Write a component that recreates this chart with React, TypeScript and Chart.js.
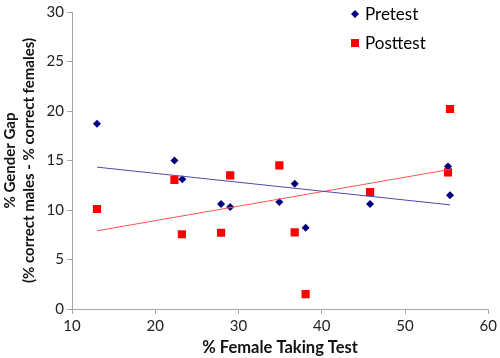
import React, { useEffect, useRef } from "react";
import { Chart, registerables } from "chart.js";

Chart.register(...registerables);

const preX = [13, 22.3, 23.25, 27.9, 29.0, 34.9, 36.75, 38.06, 45.8, 55.16, 55.4];
const preY = [18.7, 15.0, 13.1, 10.6, 10.3, 10.8, 12.65, 8.2, 10.6, 14.4, 11.5];
const postX = [13.0, 22.3, 23.2, 27.9, 29.0, 34.9, 36.75, 38.06, 45.8, 55.16, 55.4];
const postY = [10.1, 13.05, 7.55, 7.7, 13.5, 14.5, 7.75, 1.5, 11.8, 13.8, 20.2];
const preTrendX = [13, 55.4];
const preTrendY = [14.33, 10.52];
const postTrendX = [13, 55.4];
const postTrendY = [7.9, 14.1];
const legendLabels = ["Pretest", "Posttest"];
const xTitle = "% Female Taking Test";
const yTitle = ["% Gender Gap", "(% correct males - % correct females)"];

const FONT = "Lato, 'Open Sans', sans-serif";

const pts = (xs: number[], ys: number[]) => xs.map((x, i) => ({ x, y: ys[i] }));

const legendPlugin = {
  id: "customLegend",
  afterDraw(chart: any) {
    const ctx = chart.ctx;
    ctx.save();
    ctx.font = `17px ${FONT}`;
    ctx.textBaseline = "middle";
    const x0 = 355;
    const y1 = 14;
    const y2 = 43;
    ctx.fillStyle = "#000080";
    ctx.beginPath();
    ctx.moveTo(x0, y1 - 4);
    ctx.lineTo(x0 + 4, y1);
    ctx.lineTo(x0, y1 + 4);
    ctx.lineTo(x0 - 4, y1);
    ctx.closePath();
    ctx.fill();
    ctx.fillStyle = "#ff0000";
    ctx.fillRect(x0 - 4, y2 - 4, 8, 8);
    ctx.fillStyle = "#000";
    ctx.fillText(legendLabels[0], x0 + 10, y1 + 1);
    ctx.fillText(legendLabels[1], x0 + 10, y2 + 1);
    ctx.restore();
  },
};

export default function App() {
  const ref = useRef<HTMLCanvasElement>(null);
  useEffect(() => {
    if (!ref.current) return;
    const chart = new Chart(ref.current, {
      type: "scatter",
      data: {
        datasets: [
          {
            label: "Pretest trend",
            data: pts(preTrendX, preTrendY),
            showLine: true,
            borderColor: "#4b4bad",
            borderWidth: 1,
            pointRadius: 0,
            fill: false,
          },
          {
            label: "Posttest trend",
            data: pts(postTrendX, postTrendY),
            showLine: true,
            borderColor: "#ff5555",
            borderWidth: 1,
            pointRadius: 0,
            fill: false,
          },
          {
            label: legendLabels[0],
            data: pts(preX, preY),
            pointStyle: "rectRot",
            pointRadius: 4,
            backgroundColor: "#000080",
            borderColor: "#000080",
            borderWidth: 0,
          },
          {
            label: legendLabels[1],
            data: pts(postX, postY),
            pointStyle: "rect",
            pointRadius: 5.8,
            backgroundColor: "#ff0000",
            borderColor: "#ff0000",
            borderWidth: 0,
          },
        ],
      },
      options: {
        responsive: false,
        animation: false,
        layout: { padding: { top: 4, right: 7, left: 0, bottom: 0 } },
        plugins: {
          legend: { display: false },
          tooltip: { enabled: false },
        },
        scales: {
          x: {
            type: "linear",
            min: 10,
            max: 60,
            ticks: {
              stepSize: 10,
              color: "#222",
              font: { family: FONT, size: 15 },
              padding: 3,
            },
            grid: {
              display: true,
              drawOnChartArea: false,
              drawTicks: true,
              tickLength: 5,
              color: "#a6a6a6",
            },
            border: { color: "#a6a6a6", width: 1 },
            title: {
              display: true,
              text: xTitle,
              color: "#111",
              font: { family: FONT, size: 16.5, weight: "bold" },
              padding: { top: 0, bottom: 0 },
            },
            afterFit: (s: any) => {
              s.height = 49;
            },
          },
          y: {
            type: "linear",
            min: 0,
            max: 30,
            ticks: {
              stepSize: 5,
              color: "#222",
              font: { family: FONT, size: 15 },
              padding: 3,
            },
            grid: {
              display: true,
              drawOnChartArea: false,
              drawTicks: true,
              tickLength: 5,
              color: "#a6a6a6",
            },
            border: { color: "#a6a6a6", width: 1 },
            title: {
              display: true,
              text: yTitle,
              color: "#111",
              font: { family: FONT, size: 15, weight: "bold", lineHeight: 1.3 },
              padding: { top: 0, bottom: 2 },
            },
            afterFit: (s: any) => {
              s.width = 72;
            },
          },
        },
      },
      plugins: [legendPlugin],
    } as any);
    return () => chart.destroy();
  }, []);
  return (
    <div style={{ position: "absolute", left: 0, top: 0, width: 500, height: 358, background: "#fff" }}>
      <canvas ref={ref} width={500} height={358} style={{ width: 500, height: 358 }} />
    </div>
  );
}
